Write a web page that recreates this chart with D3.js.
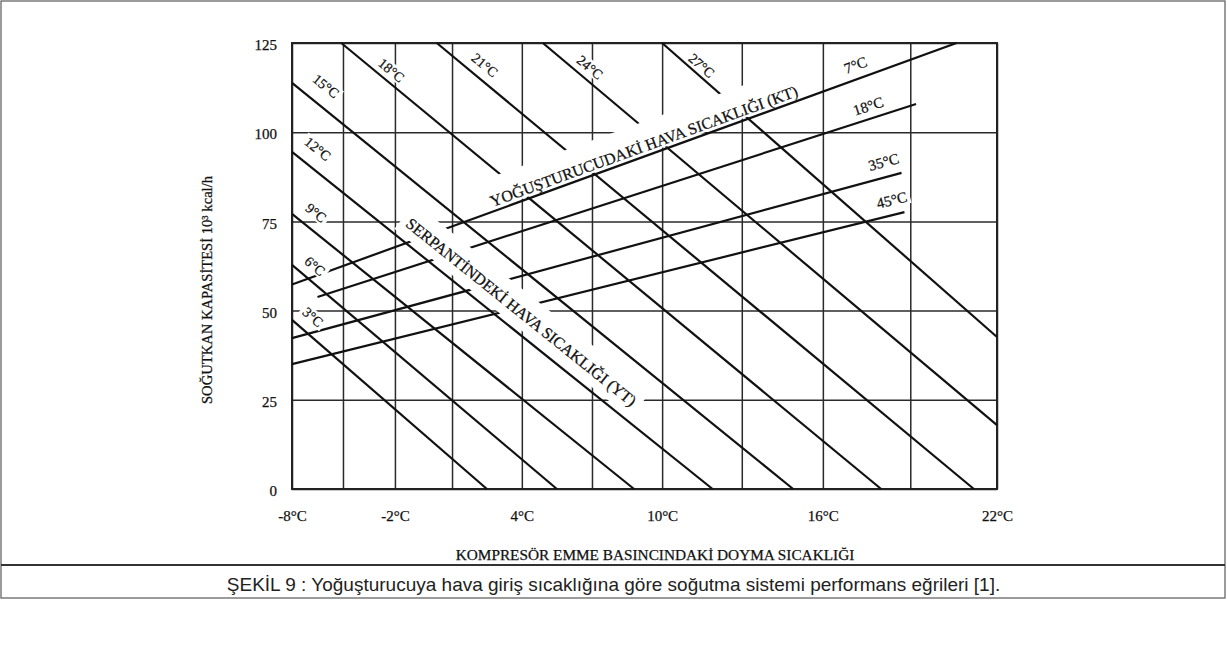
<!DOCTYPE html>
<html>
<head>
<meta charset="utf-8">
<script src="https://cdn.jsdelivr.net/npm/d3@7"></script>
<style>
body { margin: 0; background: #fff; }
svg text { font-family: "Liberation Serif", "Times New Roman", serif; fill: #111; stroke: #111; stroke-width: 0.25px; }
svg text.caption { font-family: "Liberation Sans", Arial, sans-serif; fill: #222; stroke: none; }
</style>
</head>
<body>
<div id="chart"></div>
<script>
(function() {

// x axis: compressor suction saturation temperature, the grid is not evenly spaced
var xGridTemps = [-8, -5, -2, 1, 4, 7, 10, 13, 16, 19, 22];
var xTickTemps = [-8, -2, 4, 10, 16, 22];
var yTicks = [0, 25, 50, 75, 100, 125];

// evaporator coil air temperature lines (YT): start / end as [temp, capacity]
var ytNames = ['3°C', '6°C', '9°C', '12°C', '15°C', '18°C', '21°C', '24°C', '27°C'];
var ytStart = [[-8, 47.4], [-8, 62.8], [-8, 77.1], [-8, 94.5], [-8, 113.8], [-5.1, 125], [0.2, 125], [4.9, 125], [10, 125]];
var ytEnd   = [[2.5, 0], [5.5, 0], [8.8, 0], [11.9, 0], [14.9, 0], [18, 0], [21.2, 0], [22, 17.9], [22, 42.6]];

// condenser air temperature lines (KT)
var ktNames = ['7°C', '18°C', '35°C', '45°C'];
var ktStart = [[-8, 57.3], [-6.5, 53.8], [-8, 42.3], [-8, 35.0]];
var ktEnd   = [[20.6, 125], [19.2, 107.9], [18.7, 88.6], [18.8, 77.6]];

var yTitle = 'SOĞUTKAN KAPASİTESİ 10³ kcal/h';
var xTitle = 'KOMPRESÖR EMME BASINCINDAKİ DOYMA SICAKLIĞI';
var ktTitle = 'YOĞUŞTURUCUDAKİ HAVA SICAKLIĞI (KT)';
var ytTitle = 'SERPANTİNDEKİ HAVA SICAKLIĞI (YT)';
var caption = 'ŞEKİL 9 : Yoğuşturucuya hava giriş sıcaklığına göre soğutma sistemi performans eğrileri [1].';

// layout only: where the grid columns sit across the plot width
var xGridFrac = [0, .0723, .146, .227, .326, .4255, .525, .638, .753, .877, 1];
// label place along each line [fraction, offset above line]
var ytLabelPos = [[.054, -16], [.0525, -14], [.041, -16], [.034, -18.6], [.044, -19], [.08, -11], [.073, -13.8], [.087, -11.8], [.10, -9.2]];
var ktLabelPos = [[.855, -13.9], [.9265, -12.8], [.977, -15.3], [.985, -14.8]];

var W = 1227, H = 648;
var plot = {left: 292, top: 43, right: 997, bottom: 489};

var svg = d3.select('#chart').append('svg')
    .attr('width', W)
    .attr('height', H);

var x = d3.scaleLinear()
    .domain(xGridTemps)
    .range(xGridFrac.map(function(f) { return plot.left + f * (plot.right - plot.left); }));

var y = d3.scaleLinear()
    .domain([0, 125])
    .range([plot.bottom, plot.top]);

// outer frame and caption box
var frame = svg.append('g').attr('stroke', '#666').attr('stroke-width', 1.3).attr('fill', 'none');
frame.append('rect').attr('x', 1).attr('y', 1).attr('width', W - 3).attr('height', 597);
frame.append('line').attr('x1', 1).attr('x2', W - 2).attr('y1', 565).attr('y2', 565).attr('stroke', '#333').attr('stroke-width', 1.8);

svg.append('text')
    .attr('class', 'caption')
    .attr('x', W / 2)
    .attr('y', 591)
    .attr('text-anchor', 'middle')
    .style('font-size', '19px')
    .text(caption);

// grid
var grid = svg.append('g').attr('class', 'grid');
grid.append('g')
    .attr('transform', 'translate(0,' + plot.bottom + ')')
    .call(d3.axisBottom(x).tickValues(xGridTemps).tickSize(-(plot.bottom - plot.top)).tickFormat(''))
    .call(function(g) { g.select('.domain').remove(); });
grid.append('g')
    .attr('transform', 'translate(' + plot.left + ',0)')
    .call(d3.axisLeft(y).tickValues(yTicks).tickSize(-(plot.right - plot.left)).tickFormat(''))
    .call(function(g) { g.select('.domain').remove(); });
grid.selectAll('line').attr('stroke', '#2a2a2a').attr('stroke-width', 1.5);

svg.append('rect')
    .attr('x', plot.left).attr('y', plot.top)
    .attr('width', plot.right - plot.left).attr('height', plot.bottom - plot.top)
    .attr('fill', 'none').attr('stroke', '#222').attr('stroke-width', 2);

// tick labels
svg.append('g')
    .attr('transform', 'translate(0,' + plot.bottom + ')')
    .call(d3.axisBottom(x).tickValues(xTickTemps).tickSize(0).tickPadding(21).tickFormat(function(d) { return d + '°C'; }))
    .call(function(g) { g.select('.domain').remove(); })
    .selectAll('text')
    .style('font-size', '15px')
    .style('font-family', '"Liberation Serif", serif')
    .attr('fill', '#111');

svg.append('g')
    .attr('transform', 'translate(' + (plot.left - 15) + ',0)')
    .call(d3.axisLeft(y).tickValues(yTicks).tickSize(0).tickPadding(0))
    .call(function(g) { g.select('.domain').remove(); })
    .selectAll('text')
    .attr('dy', '0.45em')
    .style('font-size', '15px')
    .style('font-family', '"Liberation Serif", serif')
    .attr('fill', '#111');

// axis titles
svg.append('text')
    .attr('transform', 'translate(212,290) rotate(-90)')
    .attr('text-anchor', 'middle')
    .style('font-size', '14.6px')
    .text(yTitle);

svg.append('text')
    .attr('x', 655)
    .attr('y', 560)
    .attr('text-anchor', 'middle')
    .style('font-size', '15.3px')
    .text(xTitle);

// performance lines
var line = d3.line()
    .x(function(d) { return x(d[0]); })
    .y(function(d) { return y(d[1]); });

var ytData = ytNames.map(function(n, i) { return {name: n, pts: [ytStart[i], ytEnd[i]]}; });
var ktData = ktNames.map(function(n, i) { return {name: n, pts: [ktStart[i], ktEnd[i]]}; });

svg.append('g').selectAll('path')
    .data(ytData.concat(ktData))
    .join('path')
    .attr('d', function(d) { return line(d.pts); })
    .attr('fill', 'none')
    .attr('stroke', '#111')
    .attr('stroke-width', 2.2);

// label set along a line, with a white box that breaks the lines under it
function lineLabel(g, pts, t, off, txt, fs, box) {
    var X0 = x(pts[0][0]), Y0 = y(pts[0][1]), X1 = x(pts[1][0]), Y1 = y(pts[1][1]);
    var ang = Math.atan2(Y1 - Y0, X1 - X0) * 180 / Math.PI;
    var cx = X0 + t * (X1 - X0), cy = Y0 + t * (Y1 - Y0);
    var grp = g.append('g').attr('transform', 'translate(' + cx + ',' + cy + ') rotate(' + ang + ')');
    var rect = grp.append('rect').attr('fill', '#fff');
    var tx = grp.append('text')
        .attr('text-anchor', 'middle')
        .attr('y', off)
        .attr('dy', '0.35em')
        .style('font-size', fs + 'px')
        .text(txt);
    var w = tx.node().getComputedTextLength();
    if (box) {
        rect.attr('x', -w / 2 - box.pad).attr('width', w + 2 * box.pad)
            .attr('y', box.top).attr('height', box.bottom - box.top);
    } else {
        rect.attr('x', -w / 2 - 3).attr('width', w + 6)
            .attr('y', off - fs * 0.5).attr('height', fs);
    }
}

var labels = svg.append('g').attr('class', 'labels');
ytData.forEach(function(d, i) {
    lineLabel(labels, d.pts, ytLabelPos[i][0], ytLabelPos[i][1], d.name, 14);
});
ktData.forEach(function(d, i) {
    lineLabel(labels, d.pts, ktLabelPos[i][0], ktLabelPos[i][1], d.name, 15);
});

lineLabel(labels, ktData[0].pts, .5347, -10, ktTitle, 16, {top: -33, bottom: -2, pad: 8});
lineLabel(labels, ytData[3].pts, .5176, -18.5, ytTitle, 16, {top: -37, bottom: -4, pad: 6});

})();
</script>
</body>
</html>
